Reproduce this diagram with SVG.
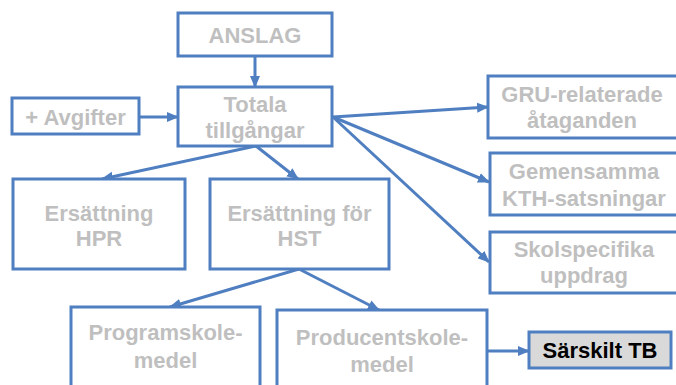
<svg xmlns="http://www.w3.org/2000/svg" width="676" height="385" viewBox="0 0 676 385">
<style>
.box{fill:#ffffff;stroke:#4f7fc0;stroke-width:3}
.hl{fill:#d9d9d9;stroke:#4f7fc0;stroke-width:3}
.t{font-family:"Liberation Sans",Arial,sans-serif;font-weight:bold;font-size:22px;fill:#bfbfbf;text-anchor:middle}
.tb{font-family:"Liberation Sans",Arial,sans-serif;font-weight:bold;font-size:22px;fill:#000000;text-anchor:middle}
.c{stroke:#4f7fc0;stroke-width:3;fill:none;marker-end:url(#ah)}
</style>
<defs>
<marker id="ah" markerUnits="userSpaceOnUse" markerWidth="12" markerHeight="12" viewBox="0 0 12 12" refX="11" refY="6" orient="auto">
<path d="M0,1 L12,6 L0,11 Z" fill="#4f7fc0"/>
</marker>
</defs>
<rect width="676" height="385" fill="#ffffff"/>
<g id="connectors">
<line class="c" x1="255" y1="56" x2="255" y2="87"/>
<line class="c" x1="139" y1="117" x2="178" y2="117"/>
<line class="c" x1="333" y1="117" x2="488" y2="107"/>
<line class="c" x1="333" y1="117" x2="489" y2="182"/>
<line class="c" x1="333" y1="117" x2="489" y2="262"/>
<line class="c" x1="256" y1="146" x2="102" y2="179"/>
<line class="c" x1="256" y1="146" x2="298" y2="179"/>
<line class="c" x1="299" y1="269" x2="170" y2="307"/>
<line class="c" x1="299" y1="269" x2="379" y2="310"/>
<line class="c" x1="487" y1="351" x2="529" y2="351"/>
</g>
<g id="anslag"><rect class="box" x="178" y="13" width="154" height="43"/><text class="t" x="255" y="43">ANSLAG</text></g>
<g id="totala"><rect class="box" x="178" y="87" width="154" height="59"/><text class="t" x="255" y="112">Totala</text><text class="t" x="255" y="138">tillgångar</text></g>
<g id="avgifter"><rect class="box" x="12" y="98" width="127" height="36"/><text class="t" x="75.5" y="125">+ Avgifter</text></g>
<g id="gru"><rect class="box" x="488" y="76" width="190" height="62"/><text class="t" x="582" y="102">GRU-relaterade</text><text class="t" x="582" y="128">åtaganden</text></g>
<g id="gemensamma"><rect class="box" x="490" y="153" width="190" height="62"/><text class="t" x="584" y="179">Gemensamma</text><text class="t" x="584" y="206">KTH-satsningar</text></g>
<g id="skolspecifika"><rect class="box" x="490" y="232" width="190" height="61"/><text class="t" x="584" y="257">Skolspecifika</text><text class="t" x="584" y="283">uppdrag</text></g>
<g id="hpr"><rect class="box" x="13" y="179" width="172" height="90"/><text class="t" x="99" y="221">Ersättning</text><text class="t" x="99" y="246">HPR</text></g>
<g id="hst"><rect class="box" x="210" y="179" width="179" height="90"/><text class="t" x="299.5" y="221">Ersättning för</text><text class="t" x="299.5" y="246">HST</text></g>
<g id="programskole"><rect class="box" x="71" y="307" width="189" height="90"/><text class="t" x="165.5" y="340">Programskole-</text><text class="t" x="165.5" y="368">medel</text></g>
<g id="producentskole"><rect class="box" x="277" y="310" width="210" height="90"/><text class="t" x="382" y="345">Producentskole-</text><text class="t" x="382" y="372">medel</text></g>
<g id="sarskilt"><rect class="hl" x="529" y="332" width="142" height="36"/><text class="tb" x="600" y="358">Särskilt TB</text></g>
</svg>
